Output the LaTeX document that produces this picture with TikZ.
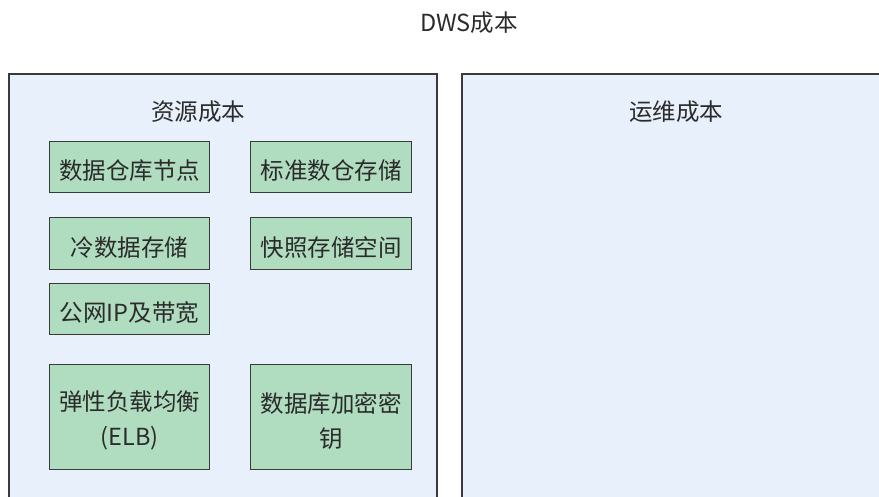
\documentclass[tikz,border=0pt]{standalone}
\usepackage{fontspec}
\setmainfont{Noto Sans CJK SC}
\definecolor{panelfill}{HTML}{E7F0FB}
\definecolor{boxfill}{HTML}{B0DCBF}
\definecolor{edge}{HTML}{3A3A3A}
\definecolor{txt}{HTML}{2B2B2B}
\begin{document}
\begin{tikzpicture}[x=1pt,y=-1pt,
  panel/.style={draw=edge,line width=1.2pt,fill=panelfill},
  itembox/.style={draw=edge,line width=1.2pt,fill=boxfill,anchor=north west,inner sep=0pt},
  itemtext/.style={text=txt,font=\fontsize{23.5}{35}\selectfont,align=center,inner sep=0pt,yshift=-3.5pt},
  ttl/.style={text=txt,font=\fontsize{23.5}{28}\selectfont}]
\useasboundingbox (0,0) rectangle (879,497);
\begin{scope}
\clip (0,0) rectangle (879,497);
\draw[panel] (9,74) rectangle (437,520);
\draw[panel] (462,74) rectangle (900,520);
\end{scope}
\node[ttl] (title) at (469,23) {DWS成本};
\node[ttl] (res) at (198,112) {资源成本};
\node[ttl] (ops) at (676,112) {运维成本};
\node[itembox,minimum width=160pt,minimum height=51pt,label={[itemtext]center:数据仓库节点}] (a) at (49,141) {};
\node[itembox,minimum width=161pt,minimum height=51pt,label={[itemtext]center:标准数仓存储}] (b) at (250,141) {};
\node[itembox,minimum width=160pt,minimum height=52pt,label={[itemtext]center:冷数据存储}] (c) at (49,217) {};
\node[itembox,minimum width=161pt,minimum height=52pt,label={[itemtext]center:快照存储空间}] (d) at (250,217) {};
\node[itembox,minimum width=160pt,minimum height=51pt,label={[itemtext]center:公网IP及带宽}] (e) at (49,283) {};
\node[itembox,minimum width=160pt,minimum height=105pt,label={[itemtext]center:{弹性负载均衡\\(ELB)}}] (f) at (49,364) {};
\node[itembox,minimum width=161pt,minimum height=105pt,label={[itemtext]center:{数据库加密密\\钥}}] (g) at (250,364) {};
\end{tikzpicture}
\end{document}
